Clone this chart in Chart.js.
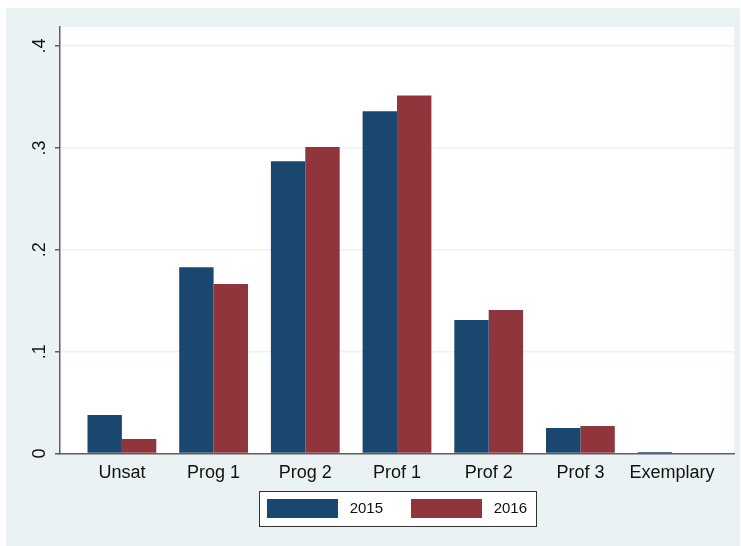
<!DOCTYPE html>
<html>
<head>
<meta charset="utf-8">
<script src="https://cdn.jsdelivr.net/npm/chart.js@4"></script>
<style>
    html, body { margin: 0; padding: 0; background: #ffffff; }
    #wrap { position: absolute; left: 6px; top: 8px; width: 734px; height: 538px; }
</style>
</head>
<body>
<div id="wrap"><canvas id="chart"></canvas></div>
<script>
// categories and values
const categories = ["Unsat", "Prog 1", "Prog 2", "Prof 1", "Prof 2", "Prof 3", "Exemplary"]
const values2015 = [0.0378, 0.1828, 0.287, 0.336, 0.131, 0.025, 0.0015]
const values2016 = [0.0142, 0.1664, 0.301, 0.3515, 0.1409, 0.027, 0]
const seriesNames = ["2015", "2016"]
const yTicks = [0, 0.1, 0.2, 0.3, 0.4]

const bgColor = "#EAF2F3"
const axisColor = "#5f5f5f"

// paints the outer background, the white plot region and the legend frame
const stataFrame = {
    id: "stataFrame",
    afterLayout(chart) {
        // pull the legend up closer to the axis labels
        const legend = chart.legend
        legend.top -= 13.5
        legend.bottom -= 13.5
    },
    beforeDraw(chart) {
        const { ctx, chartArea, legend } = chart
        ctx.save()
        ctx.fillStyle = bgColor
        ctx.fillRect(0, 0, chart.width, chart.height)
        ctx.fillStyle = "#ffffff"
        ctx.fillRect(chartArea.left, chartArea.top, chartArea.right - chartArea.left, chartArea.bottom - chartArea.top)

        const pad = legend.options.labels.padding
        const lineW = legend.lineWidths[0]
        const startX = (legend.left + pad + legend.right - lineW) / 2
        const endX = startX + lineW - pad
        const top = legend.top + pad
        const boxH = legend.options.labels.boxHeight
        ctx.fillRect(startX - 8, top - 8, endX - startX + 17, boxH + 16)
        ctx.strokeStyle = "#333333"
        ctx.lineWidth = 1
        ctx.strokeRect(Math.round(startX - 8) + 0.5, Math.round(top - 8) + 0.5, Math.round(endX - startX + 17), Math.round(boxH + 16))
        ctx.restore()
    }
}

new Chart(document.getElementById("chart"), {
    type: "bar",
    data: {
        datasets: [{
            label: " " + seriesNames[0],
            data: values2015.map((v, i) => ({ x: i, y: v })),
            backgroundColor: "#1A476F",
            borderWidth: 0
        }, {
            label: " " + seriesNames[1],
            data: values2016.map((v, i) => ({ x: i, y: v })),
            backgroundColor: "#90353B",
            borderWidth: 0
        }]
    },
    options: {
        responsive: true,
        maintainAspectRatio: false,
        animation: false,
        categoryPercentage: 0.75,
        barPercentage: 1.0,
        layout: {
            padding: { top: 19, right: 6, bottom: 4.5, left: 0 }
        },
        scales: {
            x: {
                type: "linear",
                offset: false,
                min: -0.675,
                max: 6.675,
                afterBuildTicks: (scale) => {
                    scale.ticks = categories.map((c, i) => ({ value: i }))
                },
                afterFit: (scale) => {
                    scale.height = 31
                },
                ticks: {
                    callback: (value) => categories[value],
                    color: "#111111",
                    font: { family: "Liberation Sans, Arial, sans-serif", size: 18 },
                    padding: 9,
                    maxRotation: 0,
                    autoSkip: true,
                    autoSkipPadding: 0
                },
                grid: { display: false, drawTicks: false, offset: false },
                border: { display: true, color: axisColor, width: 1.5 }
            },
            y: {
                min: 0,
                max: 0.4187,
                afterBuildTicks: (scale) => {
                    scale.ticks = yTicks.map((v) => ({ value: v }))
                },
                afterFit: (scale) => {
                    scale.width = 54
                },
                ticks: {
                    callback: (value) => value === 0 ? "0" : value.toFixed(1).replace(/^0/, ""),
                    color: "#111111",
                    font: { family: "Liberation Sans, Arial, sans-serif", size: 18 },
                    minRotation: 90,
                    maxRotation: 90,
                    crossAlign: "center",
                    padding: 7.5
                },
                grid: {
                    color: (ctx) => ctx.tick && ctx.tick.value === 0 ? "rgba(0,0,0,0)" : bgColor,
                    lineWidth: 1.5,
                    tickColor: axisColor,
                    tickLength: 5,
                    tickWidth: 1.5
                },
                border: { display: true, color: axisColor, width: 1.5 }
            }
        },
        plugins: {
            legend: {
                position: "bottom",
                fullSize: false,
                labels: {
                    boxWidth: 71,
                    boxHeight: 19,
                    padding: 28,
                    color: "#111111",
                    font: { family: "Liberation Sans, Arial, sans-serif", size: 15 }
                }
            },
            tooltip: { enabled: false }
        }
    },
    plugins: [stataFrame]
})
</script>
</body>
</html>
